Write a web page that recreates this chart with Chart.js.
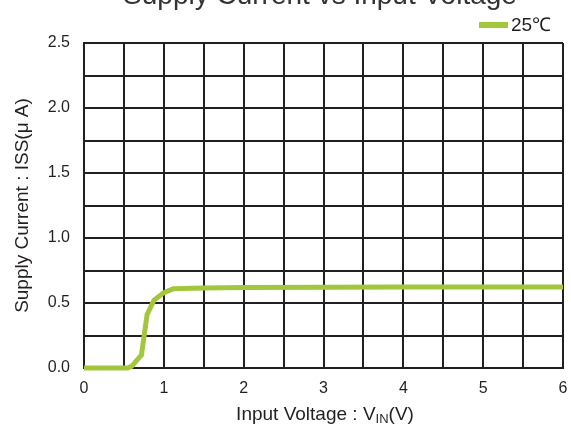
<!DOCTYPE html>
<html>
<head>
<meta charset="utf-8">
<script src="https://cdn.jsdelivr.net/npm/chart.js@4/dist/chart.umd.min.js"></script>
<style>
  html, body { margin: 0; padding: 0; background: #fff; }
  #wrap { width: 571px; height: 426px; position: relative; }
</style>
</head>
<body>
<div id="wrap"><canvas id="issChart"></canvas></div>
<script>
// 読み取った値 (入力電圧 V / 消費電流 uA)
var inputVoltage = [0, 0.55, 0.6, 0.72, 0.79, 0.875, 1.0, 1.12, 1.5, 2.0, 3.0, 4.0, 5.0, 6.0];
var supplyCurrent = [0, 0, 0.015, 0.1, 0.41, 0.52, 0.58, 0.61, 0.615, 0.62, 0.622, 0.623, 0.623, 0.623];
var seriesLabel = "25\u2103";
var xTickLabels = ["0", "1", "2", "3", "4", "5", "6"];
var yTickLabels = ["0.0", "0.5", "1.0", "1.5", "2.0", "2.5"];

var lineColor = "#a2c63c";
var inkColor = "#231f20";
var fontName = "'Liberation Sans', Arial, sans-serif";

// 上で切れているタイトルと凡例は自前で描く
var decorPlugin = {
    id: "decor",
    afterDraw: function (chart) {
        var ctx = chart.ctx;
        ctx.save();
        ctx.fillStyle = "#333";
        ctx.font = "28px " + fontName;
        ctx.textAlign = "center";
        ctx.textBaseline = "alphabetic";
        ctx.fillText("Supply Current vs Input Voltage", 320, 4);

        // 凡例
        ctx.fillStyle = lineColor;
        ctx.fillRect(479, 22, 29, 6);
        ctx.fillStyle = inkColor;
        ctx.font = "19px " + fontName;
        ctx.textAlign = "left";
        ctx.textBaseline = "middle";
        ctx.fillText(chart.data.datasets[0].label, 511, 26);

        // X軸タイトル (添字つき)
        var parts = [["Input Voltage : V", 19, 0], ["IN", 13, 3], ["(V)", 19, 0]];
        var total = 0;
        parts.forEach(function (p) {
            ctx.font = p[1] + "px " + fontName;
            total += ctx.measureText(p[0]).width;
        });
        var x = 325 - total / 2;
        ctx.textAlign = "left";
        ctx.textBaseline = "alphabetic";
        parts.forEach(function (p) {
            ctx.font = p[1] + "px " + fontName;
            ctx.fillText(p[0], x, 420 + p[2]);
            x += ctx.measureText(p[0]).width;
        });
        ctx.restore();
    }
};

function addIssChart() {
    var ctx = document.getElementById("issChart").getContext("2d");
    var points = inputVoltage.map(function (v, i) {
        return {x: v, y: supplyCurrent[i]};
    });

    var chart = new Chart(ctx, {
        type: "line",
        data: {
            datasets: [{
                label: seriesLabel,
                data: points,
                borderColor: lineColor,
                backgroundColor: lineColor,
                borderWidth: 5,
                pointRadius: 0,
                fill: false,
                tension: 0,
                clip: false
            }]
        },
        options: {
            responsive: true,
            maintainAspectRatio: false,
            animation: false,
            events: [],
            layout: {padding: {top: 43, right: 8, left: 0, bottom: 0}},
            plugins: {
                legend: {display: false},
                title: {display: false},
                tooltip: {enabled: false}
            },
            scales: {
                x: {
                    type: "linear",
                    min: 0,
                    max: 6,
                    afterFit: function (scale) {
                        scale.height = 58;
                        scale.paddingLeft = 0;
                        scale.paddingRight = 0;
                    },
                    afterBuildTicks: function (scale) {
                        var t = [];
                        for (var i = 0; i <= 12; i++) t.push({value: i * 0.5});
                        scale.ticks = t;
                    },
                    ticks: {
                        autoSkip: false,
                        maxRotation: 0,
                        padding: 11,
                        color: inkColor,
                        font: {family: fontName, size: 16},
                        callback: function (value) {
                            return value % 1 === 0 ? xTickLabels[value] : "";
                        }
                    },
                    grid: {color: inkColor, lineWidth: 2, drawTicks: false},
                    border: {color: inkColor, width: 2}
                },
                y: {
                    type: "linear",
                    min: 0,
                    max: 2.5,
                    afterFit: function (scale) {
                        scale.width = 84;
                        scale.paddingTop = 0;
                        scale.paddingBottom = 0;
                    },
                    afterBuildTicks: function (scale) {
                        var t = [];
                        for (var i = 0; i <= 10; i++) t.push({value: i * 0.25});
                        scale.ticks = t;
                    },
                    ticks: {
                        autoSkip: false,
                        padding: 14,
                        color: inkColor,
                        font: {family: fontName, size: 16},
                        callback: function (value) {
                            var k = Math.round(value / 0.5 * 1000) / 1000;
                            return k % 1 === 0 ? yTickLabels[k] : "";
                        }
                    },
                    grid: {color: inkColor, lineWidth: 2, drawTicks: false},
                    border: {color: inkColor, width: 2},
                    title: {
                        display: true,
                        text: "Supply Current : ISS(\u03bc A)",
                        color: inkColor,
                        font: {family: fontName, size: 19},
                        padding: {top: 11, bottom: 0}
                    }
                }
            }
        },
        plugins: [decorPlugin]
    });
}

addIssChart();
</script>
</body>
</html>
